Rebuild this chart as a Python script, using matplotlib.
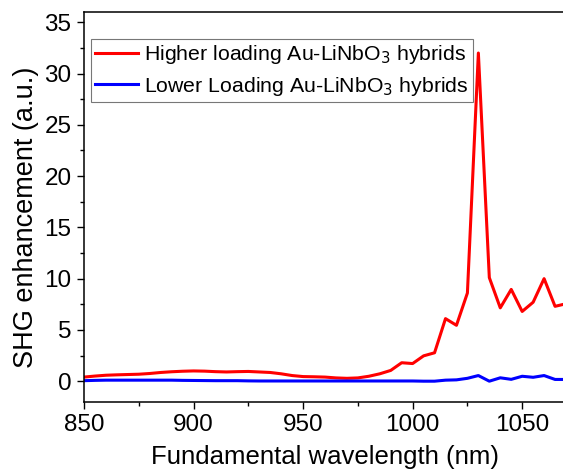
import numpy as np
import matplotlib
matplotlib.use("Agg")
import matplotlib.pyplot as plt
from matplotlib.ticker import MultipleLocator

plt.rcParams['font.family'] = ['Liberation Sans', 'DejaVu Sans']

wavelength = list(range(850, 1071, 5))

higher_loading = [
    0.40, 0.50, 0.58, 0.62, 0.65, 0.68, 0.75, 0.85, 0.92, 0.97,
    1.00, 0.98, 0.93, 0.90, 0.93, 0.95, 0.90, 0.85, 0.72, 0.55,
    0.45, 0.43, 0.40, 0.32, 0.28, 0.32, 0.48, 0.72, 1.05, 1.80,
    1.72, 2.47, 2.77, 6.10, 5.45, 8.60, 32.0, 10.1, 7.15, 8.95,
    6.80, 7.70, 10.0, 7.30, 7.55,
]

lower_loading = [
    0.05, 0.08, 0.10, 0.10, 0.10, 0.10, 0.10, 0.10, 0.10, 0.08,
    0.07, 0.06, 0.05, 0.05, 0.05, 0.03, 0.02, 0.02, 0.02, 0.02,
    0.02, 0.02, 0.02, 0.02, 0.02, 0.02, 0.02, 0.02, 0.02, 0.02,
    0.02, 0.00, 0.00, 0.10, 0.13, 0.28, 0.55, 0.00, 0.33, 0.18,
    0.48, 0.38, 0.55, 0.17, 0.17,
]

fig = plt.figure(figsize=(5.63, 4.74), dpi=100)
ax = fig.add_axes([84 / 563, 72.3 / 474, 482 / 563, 389.7 / 474])

ax.plot(wavelength, higher_loading, color='#ff0000', lw=2.2,
        label='Higher loading Au-LiNbO$_3$ hybrids')
ax.plot(wavelength, lower_loading, color='#0000ff', lw=2.2,
        label='Lower Loading Au-LiNbO$_3$ hybrids')

ax.set_xlim(850, 1070)
ax.set_ylim(-2, 36)
ax.xaxis.set_major_locator(MultipleLocator(50))
ax.xaxis.set_minor_locator(MultipleLocator(25))
ax.yaxis.set_major_locator(MultipleLocator(5))
ax.yaxis.set_minor_locator(MultipleLocator(2.5))

ax.tick_params(which='major', direction='out', length=5, width=1, labelsize=17.5,
               colors='black', pad=4)
ax.tick_params(which='minor', direction='out', length=3, width=1)
for s in ax.spines.values():
    s.set_linewidth(1.1)

ax.set_xlabel('Fundamental wavelength (nm)', fontsize=18.5, labelpad=6)
ax.set_ylabel('SHG enhancement (a.u.)', fontsize=19.5)
ax.yaxis.set_label_coords(-0.093, 0.474)

leg = ax.legend(loc='upper left', bbox_to_anchor=(0.0145, 0.931), borderaxespad=0,
                fontsize=15.3, frameon=True, fancybox=False, handlelength=2.0,
                handletextpad=0.3, borderpad=0.2, labelspacing=0.4)
leg.get_frame().set_edgecolor('#555555')
leg.get_frame().set_linewidth(0.8)

fig.savefig('out.png', dpi=100)
